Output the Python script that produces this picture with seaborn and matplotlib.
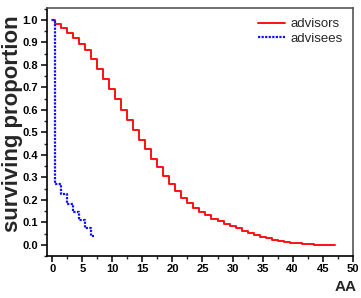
import numpy as np
import pandas as pd
import matplotlib
matplotlib.use("Agg")
import matplotlib.pyplot as plt
import seaborn as sns
from matplotlib.ticker import MultipleLocator

advisors_aa = list(range(0, 48))
advisors_surv = [1.0, 0.982, 0.964, 0.944, 0.921, 0.895, 0.865, 0.827, 0.782, 0.737,
                 0.692, 0.648, 0.600, 0.557, 0.511, 0.467, 0.425, 0.383, 0.344, 0.305,
                 0.271, 0.240, 0.210, 0.185, 0.163, 0.146, 0.131, 0.116, 0.105, 0.093,
                 0.083, 0.073, 0.062, 0.053, 0.043, 0.036, 0.030, 0.022, 0.016, 0.012,
                 0.008, 0.006, 0.004, 0.002, 0.001, 0.0005, 0.0003, 0.0002]
advisees_aa = list(range(0, 8))
advisees_surv = [1.0, 0.270, 0.227, 0.182, 0.145, 0.108, 0.074, 0.040]

sns.set_style("ticks")
plt.rcParams['font.family'] = ['Liberation Sans', 'DejaVu Sans']

df_a = pd.DataFrame({"AA": advisors_aa, "surv": advisors_surv})
df_b = pd.DataFrame({"AA": advisees_aa, "surv": advisees_surv})

fig = plt.figure(figsize=(3.61, 2.98), dpi=100)
ax = fig.add_axes([0.129, 0.141, 0.848, 0.832])

sns.lineplot(data=df_a, x="AA", y="surv", ax=ax, color="#ff1010", lw=1.4,
             drawstyle="steps-mid", label="advisors")
sns.lineplot(data=df_b, x="AA", y="surv", ax=ax, color="#1010ff", lw=1.6,
             linestyle=(0, (1, 0.6)), drawstyle="steps-mid", label="advisees")

ax.set_xlim(-0.95, 50)
ax.set_ylim(-0.05, 1.053)
ax.xaxis.set_major_locator(MultipleLocator(5))
ax.xaxis.set_minor_locator(MultipleLocator(2.5))
ax.yaxis.set_major_locator(MultipleLocator(0.1))
ax.yaxis.set_minor_locator(MultipleLocator(0.05))
ax.tick_params(which="major", direction="out", length=4, width=1.1, labelsize=8,
               pad=2, colors="black")
ax.tick_params(which="minor", direction="out", length=2.2, width=1.0)
ax.tick_params(top=False, right=False, which="both")
for lab in ax.get_xticklabels() + ax.get_yticklabels():
    lab.set_fontweight("bold")

for side in ["left", "bottom"]:
    ax.spines[side].set_color("black")
    ax.spines[side].set_linewidth(1.2)
for side in ["top", "right"]:
    ax.spines[side].set_visible(True)
    ax.spines[side].set_color("#555555")
    ax.spines[side].set_linewidth(1.2)

ax.set_ylabel("")
ax.set_xlabel("")
fig.text(0.036, 0.585, "surviving proportion", rotation=90, ha="center", va="center",
         fontsize=16, fontweight="bold")
fig.text(0.988, 0.037, "AA", ha="right", va="center", fontsize=11, fontweight="bold")

leg = ax.legend(loc="upper right", frameon=False, fontsize=9.5, handlelength=2.1,
                handletextpad=0.4, labelspacing=0.2, borderaxespad=0.35)

fig.savefig("out.png", dpi=100)
